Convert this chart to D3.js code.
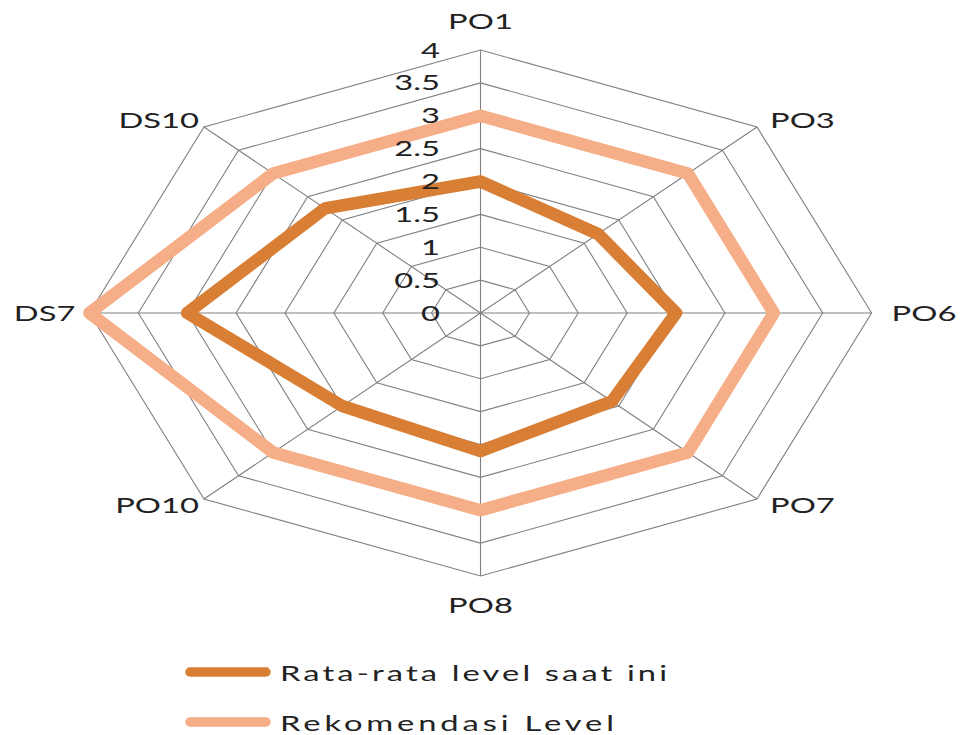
<!DOCTYPE html>
<html>
<head>
<meta charset="utf-8">
<script src="https://cdn.jsdelivr.net/npm/d3@7"></script>
<style>
  html, body { margin: 0; padding: 0; background: #ffffff; }
  svg { display: block; }
  text { font-family: Lato, "Open Sans", sans-serif; fill: #222222; }
</style>
</head>
<body>
<div id="chart"></div>
<script>
// ---- data ----
const categories = ["PO1", "PO3", "PO6", "PO7", "PO8", "PO10", "DS7", "DS10"];
const currentLevel = [2, 1.7, 2, 1.9, 2.1, 2, 3, 2.25];
const recommendedLevel = [3, 3, 3, 3, 3, 3, 4, 3];
const seriesNames = ["Rata-rata level saat ini", "Rekomendasi Level"];
const seriesColors = ["#d97e35", "#f5ae87"];
const tickValues = [0, 0.5, 1, 1.5, 2, 2.5, 3, 3.5, 4];
const tickLabels = ["0", "0.5", "1", "1.5", "2", "2.5", "3", "3.5", "4"];

// ---- layout ----
const W = 962, H = 735;
const cx = 480.5, cy = 313;
const R = 263;          // vertical radius
const sx = 1.487;       // horizontal stretch of the picture
const fontSize = 22;

const svg = d3.select("#chart").append("svg")
  .attr("width", W).attr("height", H);

const r = d3.scaleLinear().domain([0, 4]).range([0, R]);
const angle = d3.scalePoint().domain(categories.map((d, i) => i)).range([0, 2 * Math.PI * (categories.length - 1) / categories.length]);

function pt(i, v) {
  const a = angle(i);
  return [cx + r(v) * Math.sin(a) * sx, cy - r(v) * Math.cos(a)];
}

// grid rings
const gridG = svg.append("g");
tickValues.filter(v => v > 0).forEach(v => {
  gridG.append("path")
    .attr("d", d3.line().curve(d3.curveLinearClosed)(categories.map((c, i) => pt(i, v))))
    .attr("fill", "none")
    .attr("stroke", "#808080")
    .attr("stroke-width", 1.1);
});
// spokes
categories.forEach((c, i) => {
  const p = pt(i, tickValues[tickValues.length - 1]);
  gridG.append("line")
    .attr("x1", cx).attr("y1", cy).attr("x2", p[0]).attr("y2", p[1])
    .attr("stroke", "#808080").attr("stroke-width", 1.1);
});

// series
const allSeries = [currentLevel, recommendedLevel];
allSeries.forEach((vals, s) => {
  svg.append("path")
    .attr("d", d3.line().curve(d3.curveLinearClosed)(vals.map((v, i) => pt(i, v))))
    .attr("fill", "none")
    .attr("stroke", seriesColors[s])
    .attr("stroke-width", 12.5)
    .attr("stroke-linejoin", "round");
});

// stretched text helper
function label(x, y, txt, anchor, spacing) {
  svg.append("text")
    .attr("transform", `translate(${x},${y}) scale(${sx},1)`)
    .attr("text-anchor", anchor)
    .attr("font-size", fontSize)
    .attr("letter-spacing", spacing || 0)
    .text(txt);
}

// tick labels
tickValues.forEach((v, k) => {
  label(440, cy - r(v) + 7.5, tickLabels[k], "end");
});

// category labels
categories.forEach((c, i) => {
  const a = angle(i);
  const s = Math.sin(a), co = Math.cos(a);
  const p = pt(i, tickValues[tickValues.length - 1]);
  let anchor = "middle", x = p[0], y = p[1];
  if (Math.abs(s) < 0.01) {
    y = co > 0 ? p[1] - 21 : p[1] + 37;
  } else if (Math.abs(co) < 0.01) {
    anchor = s > 0 ? "start" : "end";
    x = p[0] + (s > 0 ? 20 : -14);
    y = p[1] + 7.5;
  } else {
    anchor = s > 0 ? "start" : "end";
    x = p[0] + (s > 0 ? 13 : -5);
    y = co > 0 ? p[1] + 1 : p[1] + 14;
  }
  label(x, y, c, anchor);
});

// legend
const legendY = [672, 722];
const legendSpacing = [2.1, 2.6];
seriesNames.forEach((name, s) => {
  svg.append("line")
    .attr("x1", 190).attr("x2", 266)
    .attr("y1", legendY[s]).attr("y2", legendY[s])
    .attr("stroke", seriesColors[s])
    .attr("stroke-width", 9.5)
    .attr("stroke-linecap", "round");
  label(280, legendY[s] + 8.5, name, "start", legendSpacing[s]);
});
</script>
</body>
</html>
